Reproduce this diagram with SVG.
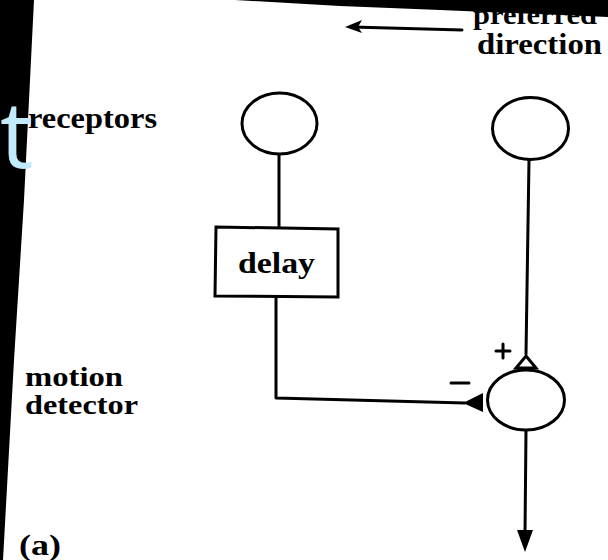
<svg xmlns="http://www.w3.org/2000/svg" width="608" height="560" viewBox="0 0 608 560">
<defs>
<style>
.t{font-family:"Liberation Serif","Times New Roman",serif;font-weight:bold;font-size:29px;fill:#000;}
.s{font-size:27px;}
.ln{fill:none;stroke:#000;stroke-width:3;stroke-linecap:round;stroke-linejoin:round;}
.nd{fill:#fff;stroke:#000;stroke-width:3;}
</style>
</defs>
<rect width="608" height="560" fill="#fff"/>
<g id="labels">
<text class="t s" x="473" y="24" textLength="124" lengthAdjust="spacingAndGlyphs">preferred</text>
<text class="t" x="477" y="54" textLength="125" lengthAdjust="spacingAndGlyphs">direction</text>
<text class="t" x="28" y="128" textLength="129" lengthAdjust="spacingAndGlyphs">receptors</text>
<text class="t s" x="25" y="386" textLength="98" lengthAdjust="spacingAndGlyphs">motion</text>
<text class="t s" x="25" y="414" textLength="113" lengthAdjust="spacingAndGlyphs">detector</text>
<text class="t" x="19" y="555" textLength="42" lengthAdjust="spacingAndGlyphs">(a)</text>
</g>
<g id="connectors">
<path class="ln" d="M462,30 L352,27"/>
<path d="M345,27 L362,20 L358,27 L362,33 z" fill="#000"/>
<path class="ln" d="M279,154 L279,227"/>
<path class="ln" d="M276,298 L276,398 L465,403"/>
<path class="ln" d="M529,160 L526,354"/>
<path class="ln" d="M526,430 L525,535"/>
<path d="M517,530 L533,530 L525,552 z" fill="#000"/>
<path d="M463,403 L483,393 L483,412 z" fill="#000"/>
<path d="M526,356 L536,368 L516,368 z" fill="#fff" stroke="#000" stroke-width="3" stroke-linejoin="miter"/>
<path class="ln" d="M496,351 L510,351 M503,344 L503,358" stroke-width="3.5"/>
<path class="ln" d="M451,383 L469,383" stroke-width="3.5"/>
</g>
<g id="receptor-left"><ellipse class="nd" cx="279.5" cy="123.5" rx="37.5" ry="30.5"/></g>
<g id="receptor-right"><ellipse class="nd" cx="530.5" cy="128.5" rx="38" ry="31"/></g>
<g id="delay">
<path class="nd" d="M216,227 L338,229 L338,297 L215,296 z"/>
<text class="t" x="238" y="273" textLength="77" lengthAdjust="spacingAndGlyphs">delay</text>
</g>
<g id="motion-detector"><ellipse class="nd" cx="526" cy="400" rx="38.5" ry="30"/></g>
<g id="scan-edges">
<path d="M0,0 L34,0 L32,40 L24,200 L14,360 L3,560 L0,560 z" fill="#000"/>
<path d="M235,0 L608,0 L608,17 L440,10 L340,6 z" fill="#000"/>
<text x="0" y="168" font-family="'Open Sans','DejaVu Sans',sans-serif" font-size="94" fill="#c2eafd">t</text>
</g>
</svg>
